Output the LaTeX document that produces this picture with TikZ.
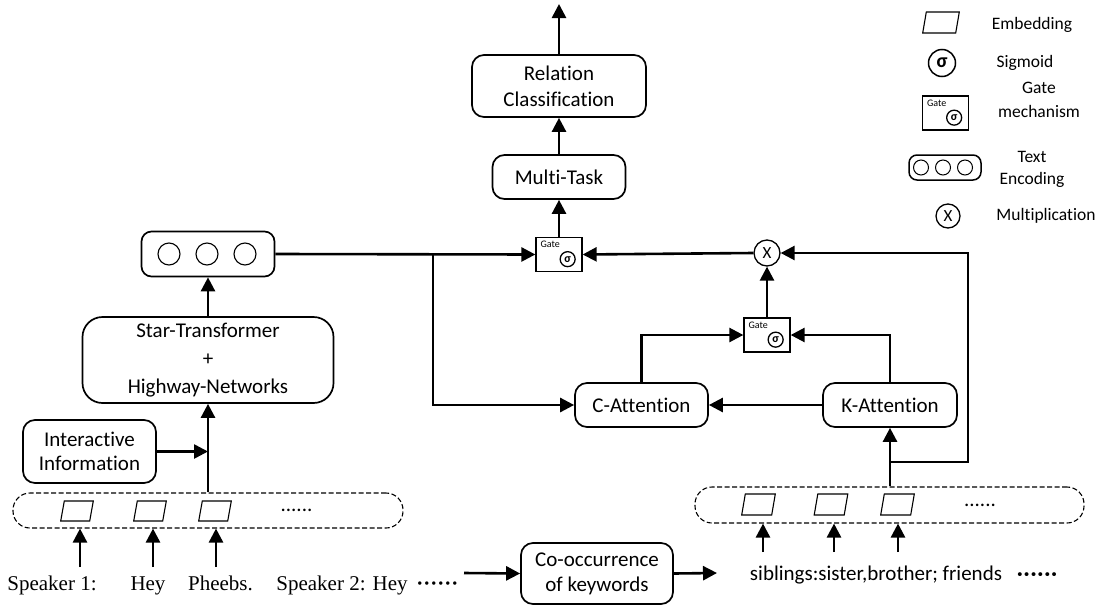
\documentclass[tikz,border=0pt]{standalone}
\usepackage{fontspec}
\setmainfont{Carlito}[Ligatures={NoCommon}]
\newfontfamily\serifface{Liberation Serif}
\usetikzlibrary{arrows.meta}
\newcommand\gatenode[3]{%
  \node[gatebox] (#1) at (#2,#3) {};
  \node[font=\fontsize{10}{12}\selectfont, anchor=north west] (#1-t) at ([xshift=5pt,yshift=-4pt]#1.north west) {Gate};
  \node[sigc] (#1-s) at ([xshift=-15pt,yshift=13pt]#1.south east) {σ};
}
% parallelogram: name, x, y, half width, half height
\newcommand\embnode[5]{%
  \coordinate (#1) at (#2,#3);
  \draw[line width=1.1pt, line join=miter]
    ([xshift=-#4pt+1.8pt,yshift=#5pt]#1) -- ([xshift=#4pt+1.8pt,yshift=#5pt]#1)
    -- ([xshift=#4pt-1.8pt,yshift=-#5pt]#1) -- ([xshift=-#4pt-1.8pt,yshift=-#5pt]#1) -- cycle;
}
\begin{document}
\begin{tikzpicture}[x=1pt,y=-1pt,
  every node/.style={font=\fontsize{21}{25}\selectfont, inner sep=0pt},
  box/.style={draw, line width=1.7pt, rounded corners=12pt, align=center},
  arr/.style={line width=2.6pt, -{Triangle[length=14pt,width=14pt]}},
  dbox/.style={draw, dash pattern=on 5pt off 2.5pt, line width=1.1pt, rounded corners=17pt},
  gatebox/.style={draw, line width=1.3pt, minimum width=46pt, minimum height=34pt},
  sigc/.style={draw, circle, line width=1.3pt, minimum size=15pt, font=\fontsize{12}{12}\selectfont\bfseries},
  bigsig/.style={draw, circle, line width=1.5pt, minimum size=27pt, font=\fontsize{20}{20}\selectfont\bfseries},
  mulc/.style={draw, circle, line width=1.3pt, minimum size=26pt, font=\fontsize{17}{17}\selectfont},
  encc/.style={draw, circle, line width=1.1pt, minimum size=22pt},
  lab/.style={font=\fontsize{17.5}{22}\selectfont, align=center},
  spk/.style={font=\serifface\fontsize{21}{25}\selectfont, anchor=base},
]
\useasboundingbox (0,0) rectangle (1102,605);

% top column
\node[box, font=\fontsize{21}{26}\selectfont, minimum width=174pt, minimum height=62pt] (rc) at (559,86) {Relation\\Classification};
\coordinate (out) at (559,4);
\node[box, minimum width=133pt, minimum height=44pt] (mt) at (559,177) {Multi-Task};
\gatenode{g1}{559}{254.5}
\node[mulc] (mul) at (767,253) {X};
\gatenode{g2}{767}{335}

% attention
\node[box, minimum width=133pt, minimum height=44pt] (ca) at (641.5,405) {C-Attention};
\node[box, minimum width=134pt, minimum height=44pt] (ka) at (890,405) {K-Attention};

% left column
\node[box, rounded corners=10pt, minimum width=133pt, minimum height=45pt] (te) at (208,254) {};
\node[encc] (te1) at (169,254) {};
\node[encc] (te2) at (207,254) {};
\node[encc] (te3) at (245,254) {};
\node[box, rounded corners=20pt, font=\fontsize{21}{28}\selectfont, minimum width=251pt, minimum height=86pt] (st) at (208,360) {Star-Transformer\\+\\Highway-Networks};
\node[box, font=\fontsize{21}{24}\selectfont, minimum width=133pt, minimum height=63pt] (ii) at (89.5,451.5) {Interactive\\Information};

% embedding rows
\node[dbox, minimum width=390pt, minimum height=35pt] (dl) at (208,510.5) {};
\embnode{el1}{77}{511}{14.5}{10}
\embnode{el2}{150}{511}{14.5}{10}
\embnode{el3}{215}{511}{14.5}{10}
\node[anchor=base] (dld) at (296.5,511) {......};

\node[dbox, minimum width=389pt, minimum height=36pt] (dr) at (889.5,505) {};
\embnode{er1}{758.5}{504.5}{15}{10.5}
\embnode{er2}{831}{504.5}{15}{10.5}
\embnode{er3}{897.5}{504.5}{15}{10.5}
\node[anchor=base] (drd) at (980,506) {......};

% bottom line
\node[spk] (sp1) at (52,590) {Speaker 1:};
\node[spk] (hey) at (148,590) {Hey};
\node[spk] (phe) at (220.5,590) {Pheebs.};
\node[spk] (sp2) at (342,590) {Speaker 2: Hey};
\node[spk] (spd) at (437.5,590) {\bfseries\makebox[42pt]{·\hfill·\hfill·\hfill·\hfill·\hfill·}};
\node[box, font=\fontsize{21}{25}\selectfont, minimum width=152pt, minimum height=61pt] (co) at (597,573.5) {Co-occurrence\\of keywords};
\node[anchor=base] (sib) at (876,580) {siblings:sister,brother; friends};
\node[anchor=base] (sibd) at (1037,580) {\bfseries\makebox[40pt]{·\hfill·\hfill·\hfill·\hfill·\hfill·}};

% coordinates
\coordinate (j1) at (433,254);
\coordinate (j2) at (890,462);
\coordinate (j3) at (968,253);
\coordinate (a1) at (80,567);
\coordinate (a2) at (153,567);
\coordinate (a3) at (216,567);
\coordinate (b1) at (763,552);
\coordinate (b2) at (834,552);
\coordinate (b3) at (898,552);
\coordinate (c0) at (464,573);
\coordinate (c1) at (717,573);

% connectors
\draw[arr] (rc.north) -- (out);
\draw[arr] (mt.north) -- (rc.south);
\draw[arr] (g1.north) -- (mt.south);
\draw[arr] (te.east) -- (g1.west);
\draw[arr] (j1) |- (ca.west);
\draw[arr] (mul.west) -- (g1.east);
\draw[arr] (g2.north) -- (mul.south);
\draw[arr] (ca.north) |- (g2.west);
\draw[arr] (ka.north) |- (g2.east);
\draw[arr] (ka.west) -- (ca.east);
\draw[arr] (dr.north -| ka.south) -- (ka.south);
\draw[arr] (j2) -| (j3) -- (mul.east);
\draw[arr] (st.north) -- (te.south);
\draw[arr] (dl.north) -- (st.south);
\draw[arr] (ii.east) -- (ii.east -| dl.north);
\draw[arr] (a1) -- (a1 |- dl.south);
\draw[arr] (a2) -- (a2 |- dl.south);
\draw[arr] (a3) -- (a3 |- dl.south);
\draw[arr] (b1) -- (b1 |- dr.south);
\draw[arr] (b2) -- (b2 |- dr.south);
\draw[arr] (b3) -- (b3 |- dr.south);
\draw[arr] (c0) -- (co.west);
\draw[arr] (co.east) -- (c1);

% legend
\embnode{le}{941}{22.5}{16.5}{10.5}
\node[lab] (let) at (1032,25) {Embedding};
\node[bigsig] (ls) at (942,63) {σ};
\node[lab] (lst) at (1025,63) {Sigmoid};
\gatenode{lg}{945.5}{113}
\node[lab, font=\fontsize{17.5}{24}\selectfont] (lgt) at (1039,100) {Gate\\mechanism};
\node[draw, line width=1.5pt, rounded corners=8pt, minimum width=72pt, minimum height=25pt] (lt) at (945,167.5) {};
\node[draw, circle, line width=1pt, minimum size=15pt] (lt1) at (921,167.5) {};
\node[draw, circle, line width=1pt, minimum size=15pt] (lt2) at (943,167.5) {};
\node[draw, circle, line width=1pt, minimum size=15pt] (lt3) at (965,167.5) {};
\node[lab] (ltt) at (1032,169) {Text\\Encoding};
\node[mulc, minimum size=24pt] (lm) at (948,216) {X};
\node[lab] (lmt) at (1046,216) {Multiplication};
\end{tikzpicture}
\end{document}
